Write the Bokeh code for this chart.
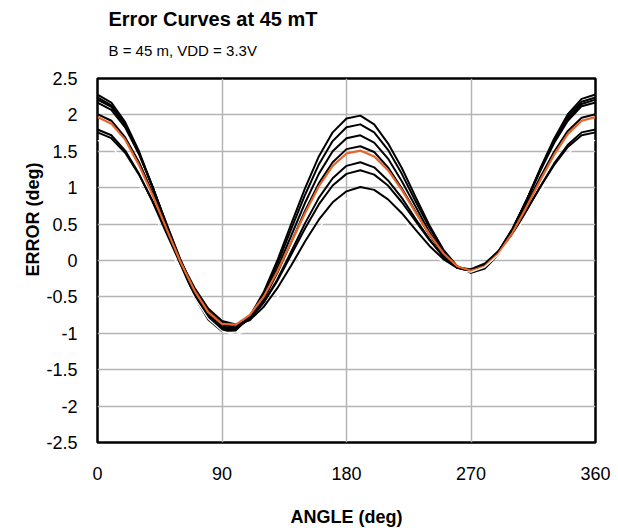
import math
from bokeh.plotting import figure
from bokeh.models import Range1d, FixedTicker, Title
from bokeh.embed import file_html
from bokeh.resources import INLINE

# ---------------- data ----------------
ANGLE = list(range(0, 361, 10))
X_TICKS = [0, 90, 180, 270, 360]
Y_TICKS = [-2.5, -2, -1.5, -1, -0.5, 0, 0.5, 1, 1.5, 2, 2.5]
Y_TICK_LABELS = ["-2.5", "-2", "-1.5", "-1", "-0.5", "0", "0.5", "1", "1.5", "2", "2.5"]

err_1 = [2.28, 2.17, 1.90, 1.50, 1.00, 0.47, -0.05, -0.49, -0.81, -0.97, -0.96, -0.77, -0.44, 0.00, 0.50, 0.99, 1.43, 1.76, 1.95,
         1.99, 1.87, 1.61, 1.27, 0.87, 0.48, 0.15, -0.08, -0.17, -0.11, 0.09, 0.42, 0.82, 1.26, 1.67, 2.01, 2.22, 2.28]
err_2 = [2.24, 2.13, 1.87, 1.48, 1.00, 0.47, -0.03, -0.47, -0.79, -0.95, -0.95, -0.78, -0.47, -0.05, 0.43, 0.90, 1.32, 1.64, 1.83,
         1.87, 1.76, 1.52, 1.19, 0.81, 0.45, 0.13, -0.08, -0.16, -0.10, 0.11, 0.42, 0.82, 1.25, 1.65, 1.98, 2.18, 2.24]
err_3 = [2.21, 2.11, 1.86, 1.47, 1.00, 0.49, -0.01, -0.44, -0.76, -0.93, -0.94, -0.79, -0.50, -0.11, 0.34, 0.79, 1.19, 1.50, 1.68,
         1.72, 1.62, 1.40, 1.09, 0.74, 0.39, 0.10, -0.09, -0.16, -0.09, 0.12, 0.43, 0.82, 1.24, 1.63, 1.95, 2.15, 2.21]
err_4 = [2.17, 2.07, 1.83, 1.46, 1.00, 0.50, 0.01, -0.42, -0.73, -0.91, -0.93, -0.80, -0.54, -0.17, 0.25, 0.68, 1.06, 1.35, 1.53,
         1.57, 1.49, 1.28, 0.99, 0.67, 0.35, 0.08, -0.10, -0.15, -0.07, 0.13, 0.44, 0.82, 1.23, 1.61, 1.92, 2.12, 2.17]
err_5 = [2.01, 1.92, 1.69, 1.35, 0.92, 0.46, 0.00, -0.40, -0.70, -0.88, -0.92, -0.81, -0.58, -0.26, 0.12, 0.51, 0.86, 1.13, 1.30,
         1.35, 1.28, 1.10, 0.86, 0.57, 0.29, 0.05, -0.10, -0.14, -0.06, 0.13, 0.42, 0.77, 1.14, 1.49, 1.78, 1.96, 2.01]
err_6 = [1.80, 1.72, 1.51, 1.19, 0.80, 0.37, -0.05, -0.42, -0.70, -0.86, -0.89, -0.79, -0.58, -0.28, 0.08, 0.44, 0.77, 1.03, 1.19,
         1.24, 1.18, 1.03, 0.80, 0.54, 0.28, 0.06, -0.09, -0.13, -0.07, 0.10, 0.36, 0.68, 1.01, 1.33, 1.59, 1.76, 1.80]
err_7 = [1.76, 1.68, 1.48, 1.18, 0.81, 0.40, -0.01, -0.37, -0.66, -0.83, -0.88, -0.82, -0.64, -0.38, -0.07, 0.26, 0.56, 0.80, 0.95,
         1.01, 0.97, 0.84, 0.65, 0.42, 0.20, 0.02, -0.10, -0.12, -0.04, 0.13, 0.38, 0.69, 1.01, 1.31, 1.56, 1.72, 1.76]
err_typ = [1.97, 1.88, 1.66, 1.31, 0.89, 0.43, -0.02, -0.41, -0.71, -0.87, -0.88, -0.75, -0.50, -0.15, 0.25, 0.65, 1.02, 1.30, 1.47,
           1.51, 1.43, 1.24, 0.97, 0.66, 0.36, 0.10, -0.08, -0.14, -0.08, 0.10, 0.38, 0.73, 1.10, 1.45, 1.74, 1.92, 1.97]
err_hidden = [1.65, 1.56, 1.36, 1.05, 0.67, 0.26, -0.15, -0.51, -0.80, -0.97, -1.02, -0.95, -0.78, -0.51, -0.19, 0.13, 0.44, 0.69, 0.85,
              0.92, 0.88, 0.77, 0.58, 0.37, 0.15, -0.03, -0.14, -0.16, -0.09, 0.08, 0.33, 0.62, 0.94, 1.23, 1.47, 1.62, 1.65]

BLACK_SERIES = [err_1, err_2, err_3, err_4, err_5, err_6, err_7]

TITLE = "Error Curves at 45 mT"
SUBTITLE = "B = 45 m, VDD = 3.3V"
X_LABEL = "ANGLE (deg)"
Y_LABEL = "ERROR (deg)"

FONT = "Liberation Sans"

# ---------------- figure ----------------
p = figure(width=618, height=532, output_backend="svg", toolbar_location=None,
           x_range=Range1d(0, 360), y_range=Range1d(-2.5, 2.5),
           min_border_left=97, min_border_right=23, min_border_top=78, min_border_bottom=90,
           title=None)
p.background_fill_color = "white"
p.border_fill_color = "white"
p.outline_line_color = "black"
p.outline_line_width = 2.5

p.add_layout(Title(text=SUBTITLE, align="left", offset=11, text_font=FONT, text_font_size="15px",
                   text_font_style="normal", text_color="black", standoff=39), "above")
p.add_layout(Title(text=TITLE, align="left", offset=11, text_font=FONT, text_font_size="20px",
                   text_font_style="bold", text_color="black", standoff=-18), "above")

p.xaxis.ticker = FixedTicker(ticks=X_TICKS)
p.yaxis.ticker = FixedTicker(ticks=Y_TICKS)
p.yaxis.major_label_overrides = {v: s for v, s in zip(Y_TICKS, Y_TICK_LABELS)}
for ax in (p.xaxis, p.yaxis):
    ax.axis_line_color = None
    ax.major_tick_line_color = None
    ax.minor_tick_line_color = None
    ax.major_tick_out = 0
    ax.major_tick_in = 0
    ax.minor_tick_out = 0
    ax.minor_tick_in = 0
    ax.major_label_text_font = FONT
    ax.major_label_text_font_size = "18px"
    ax.major_label_text_color = "black"
p.xaxis.major_label_standoff = 24
p.yaxis.major_label_standoff = 20

p.xaxis.axis_label = X_LABEL
p.xaxis.axis_label_text_font = FONT
p.xaxis.axis_label_text_font_size = "18px"
p.xaxis.axis_label_text_font_style = "bold"
p.xaxis.axis_label_text_color = "black"
p.xaxis.axis_label_standoff = 24

# vertical axis title, placed as a left-side title raised like the reference
p.add_layout(Title(text=Y_LABEL, align="left", offset=166, text_font=FONT, text_font_size="18px",
                   text_font_style="bold", text_color="black", standoff=2), "left")

p.xgrid.grid_line_color = "#b4b4b4"
p.ygrid.grid_line_color = "#b4b4b4"
p.xgrid.grid_line_width = 1.5
p.ygrid.grid_line_width = 1.5

for s in BLACK_SERIES:
    p.line(ANGLE, s, line_color="black", line_width=2, line_join="round")
p.line(ANGLE, err_typ, line_color="#e5652a", line_width=2.2, line_join="round")
p.line(ANGLE, err_hidden, line_color="white", line_width=1.3, line_join="round")

open("out.html", "w").write(file_html(p, INLINE))
